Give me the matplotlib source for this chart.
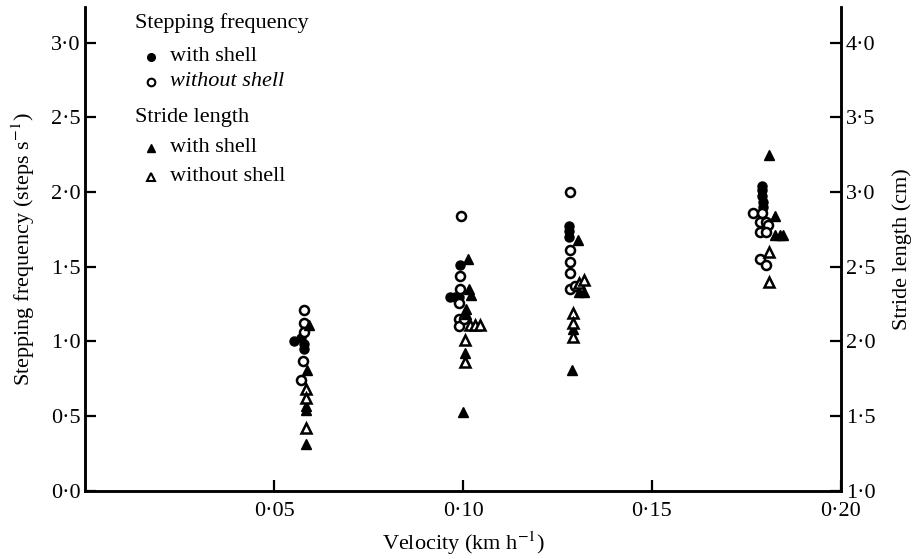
import matplotlib
matplotlib.use("Agg")
import matplotlib.pyplot as plt
from matplotlib.ticker import FuncFormatter, FixedLocator

plt.rcParams["font.family"] = ["Liberation Serif", "DejaVu Serif"]
plt.rcParams["mathtext.fontset"] = "stix"

# stepping frequency (steps s-1), with shell
freq_with_x = [0.0552, 0.0570, 0.0580, 0.0578,
               0.0992, 0.0965, 0.0978, 0.0990,
               0.1280, 0.1280, 0.1280,
               0.1791, 0.1791, 0.1791, 0.1793, 0.1795]
freq_with_y = [1.00, 1.02, 0.98, 0.95,
               1.51, 1.30, 1.30, 1.30,
               1.77, 1.74, 1.70,
               2.04, 2.01, 1.97, 1.93, 1.90]

# stepping frequency, without shell
freq_without_x = [0.0578, 0.0578, 0.0578, 0.0576, 0.0572,
                  0.0995, 0.0992, 0.0992, 0.0990, 0.0990, 0.0990, 0.1003,
                  0.1283, 0.1283, 0.1283, 0.1283, 0.1283, 0.1296,
                  0.1768, 0.1790, 0.1785, 0.1803, 0.1807, 0.1785, 0.1803, 0.1786, 0.1803]
freq_without_y = [1.21, 1.12, 1.06, 0.87, 0.74,
                  1.84, 1.44, 1.35, 1.26, 1.15, 1.10, 1.15,
                  2.00, 1.61, 1.53, 1.46, 1.35, 1.37,
                  1.86, 1.86, 1.80, 1.80, 1.78, 1.73, 1.73, 1.55, 1.51]

# stride length (cm), with shell
stride_with_x = [0.0592, 0.0586, 0.0583, 0.0583, 0.0583,
                 0.1013, 0.1016, 0.1020, 0.1008, 0.1008, 0.1005, 0.1000,
                 0.1304, 0.1307, 0.1320, 0.1291, 0.1289,
                 0.1810, 0.1825, 0.1825, 0.1838, 0.1847]
stride_with_y = [2.11, 1.81, 1.57, 1.54, 1.31,
                 2.55, 2.35, 2.31, 2.22, 2.18, 1.92, 1.53,
                 2.68, 2.33, 2.33, 2.08, 1.81,
                 3.25, 2.84, 2.71, 2.71, 2.71]

# stride length, without shell
stride_without_x = [0.0583, 0.0583, 0.0583,
                    0.1018, 0.1031, 0.1044, 0.1005, 0.1005,
                    0.1307, 0.1320, 0.1291, 0.1291, 0.1291,
                    0.1810, 0.1810]
stride_without_y = [1.68, 1.62, 1.42,
                    2.11, 2.11, 2.11, 2.01, 1.86,
                    2.39, 2.41, 2.19, 2.12, 2.03,
                    2.60, 2.40]

x_ticks = [0.05, 0.10, 0.15, 0.20]
freq_ticks = [0.0, 0.5, 1.0, 1.5, 2.0, 2.5, 3.0]
stride_ticks = [1.0, 1.5, 2.0, 2.5, 3.0, 3.5, 4.0]

fig = plt.figure(figsize=(9.17, 5.59), dpi=100)
ax = fig.add_axes([0.093, 0.122, 0.824, 0.866])
ax2 = ax.twinx()

ax.set_xlim(0, 0.20)
ax.set_ylim(0, 3.24)
ax2.set_ylim(1.0, 4.24)

ms = 6.5
ax.plot(freq_with_x, freq_with_y, "o", color="black", ms=ms, zorder=3)
ax.plot(freq_without_x, freq_without_y, "o", mfc="white", mec="black", mew=1.8, ms=ms, zorder=4)
ax2.plot(stride_with_x, stride_with_y, "^", color="black", ms=ms, zorder=3)
ax2.plot(stride_without_x, stride_without_y, "^", mfc="white", mec="black", mew=1.8, ms=ms, zorder=4)

dot = FuncFormatter(lambda v, p: ("%.1f" % v).replace(".", "\u00b7"))
ax.xaxis.set_major_locator(FixedLocator(x_ticks))
ax.xaxis.set_major_formatter(FuncFormatter(lambda v, p: ("%.2f" % v).replace(".", "\u00b7")))
ax.yaxis.set_major_locator(FixedLocator(freq_ticks))
ax.yaxis.set_major_formatter(dot)
ax2.yaxis.set_major_locator(FixedLocator(stride_ticks))
ax2.yaxis.set_major_formatter(dot)

for a in (ax, ax2):
    a.spines["top"].set_visible(False)
    for s in a.spines.values():
        s.set_linewidth(1.8)
    a.tick_params(direction="in", length=8, width=1.6, labelsize=16)
ax.tick_params(axis="x", pad=8)

ax.set_xlabel("Velocity (km h$^{-1}$)", fontsize=16, labelpad=6)
ax.set_ylabel("Stepping frequency (steps s$^{-1}$)", fontsize=16, labelpad=10)
ax2.set_ylabel("Stride length (cm)", fontsize=16, labelpad=12)

# legend drawn by hand, as in the original figure
tr = ax.transAxes
ax.text(0.066, 0.967, "Stepping frequency", transform=tr, fontsize=16, va="center")
ax.plot([0.087], [0.897], "o", color="black", ms=5.5, transform=tr, clip_on=False)
ax.text(0.112, 0.897, "with shell", transform=tr, fontsize=16, va="center")
ax.plot([0.087], [0.845], "o", mfc="white", mec="black", mew=1.5, ms=5.5, transform=tr, clip_on=False)
ax.text(0.112, 0.845, "without shell", transform=tr, fontsize=16, va="center", style="italic")
ax.text(0.066, 0.771, "Stride length", transform=tr, fontsize=16, va="center")
ax.plot([0.087], [0.709], "^", color="black", ms=5.5, transform=tr, clip_on=False)
ax.text(0.112, 0.709, "with shell", transform=tr, fontsize=16, va="center")
ax.plot([0.087], [0.649], "^", mfc="white", mec="black", mew=1.5, ms=5.5, transform=tr, clip_on=False)
ax.text(0.112, 0.649, "without shell", transform=tr, fontsize=16, va="center")

plt.savefig("out.png", dpi=100)
